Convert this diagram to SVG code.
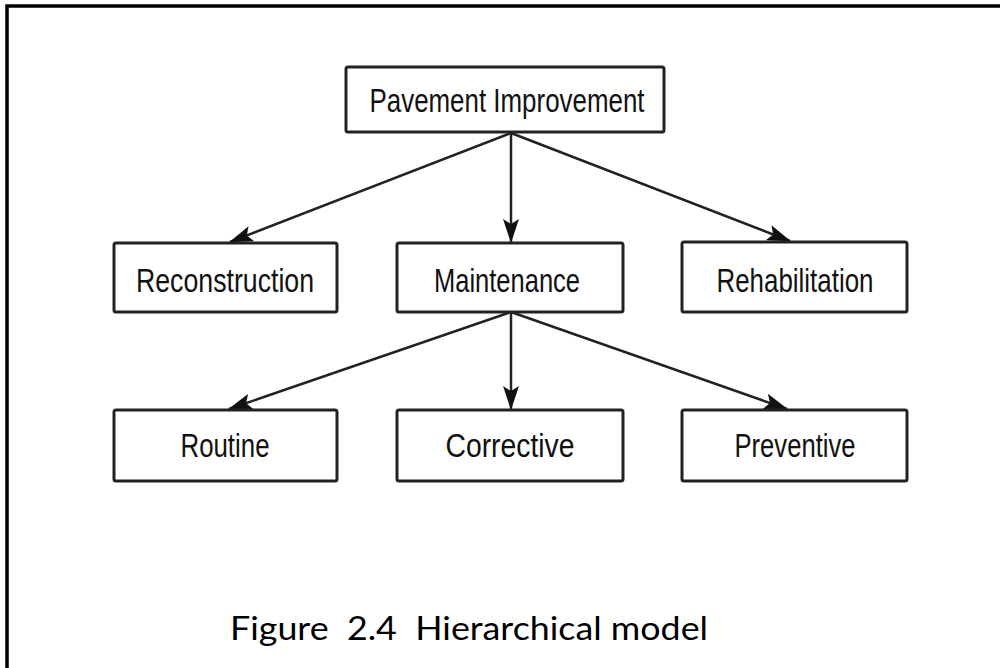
<svg xmlns="http://www.w3.org/2000/svg" width="1000" height="668" viewBox="0 0 1000 668">
<style>
.box{fill:#fff;stroke:#222;stroke-width:3}
.lbl{font-family:"Liberation Sans",Arial,sans-serif;font-size:34px;fill:#111;text-anchor:middle}
.edge{stroke:#222;stroke-width:2.5;fill:none;marker-end:url(#ah)}
.cap{font-family:Lato,"Liberation Sans",sans-serif;font-size:33px;fill:#000;white-space:pre}
</style>
<defs>
<marker id="ah" viewBox="0 0 24 16" refX="23" refY="8" markerWidth="24" markerHeight="16" markerUnits="userSpaceOnUse" orient="auto">
<path d="M0,0 L24,8 L0,16 L5,8 Z" fill="#111"/>
</marker>
</defs>
<rect width="1000" height="668" fill="#fff"/>
<path d="M7,668 V6 H1000" fill="none" stroke="#000" stroke-width="3.5"/>
<g id="connectors">
<line class="edge" x1="511" y1="133" x2="230" y2="242"/>
<line class="edge" x1="511" y1="133" x2="511" y2="242"/>
<line class="edge" x1="511" y1="133" x2="790" y2="241"/>
<line class="edge" x1="511" y1="312" x2="229" y2="409"/>
<line class="edge" x1="511" y1="312" x2="511" y2="409"/>
<line class="edge" x1="511" y1="312" x2="787" y2="409"/>
</g>
<g id="n-pavement"><rect class="box" x="346" y="67" width="318" height="65" rx="2"/><text class="lbl" x="507" y="112" textLength="275" lengthAdjust="spacingAndGlyphs">Pavement Improvement</text></g>
<g id="n-reconstruction"><rect class="box" x="114" y="243" width="223" height="69" rx="2"/><text class="lbl" x="225" y="292" textLength="178" lengthAdjust="spacingAndGlyphs">Reconstruction</text></g>
<g id="n-maintenance"><rect class="box" x="397" y="243" width="226" height="69" rx="2"/><text class="lbl" x="507" y="292" textLength="146" lengthAdjust="spacingAndGlyphs">Maintenance</text></g>
<g id="n-rehabilitation"><rect class="box" x="682" y="242" width="225" height="70" rx="2"/><text class="lbl" x="795" y="292" textLength="157" lengthAdjust="spacingAndGlyphs">Rehabilitation</text></g>
<g id="n-routine"><rect class="box" x="114" y="410" width="223" height="71" rx="2"/><text class="lbl" x="225" y="457" textLength="89" lengthAdjust="spacingAndGlyphs">Routine</text></g>
<g id="n-corrective"><rect class="box" x="397" y="410" width="226" height="71" rx="2"/><text class="lbl" x="510" y="457" textLength="129" lengthAdjust="spacingAndGlyphs">Corrective</text></g>
<g id="n-preventive"><rect class="box" x="682" y="410" width="225" height="71" rx="2"/><text class="lbl" x="795" y="457" textLength="121" lengthAdjust="spacingAndGlyphs">Preventive</text></g>
<text class="cap" x="230" y="640" textLength="478" lengthAdjust="spacingAndGlyphs" xml:space="preserve">Figure  2.4  Hierarchical model</text>
</svg>
